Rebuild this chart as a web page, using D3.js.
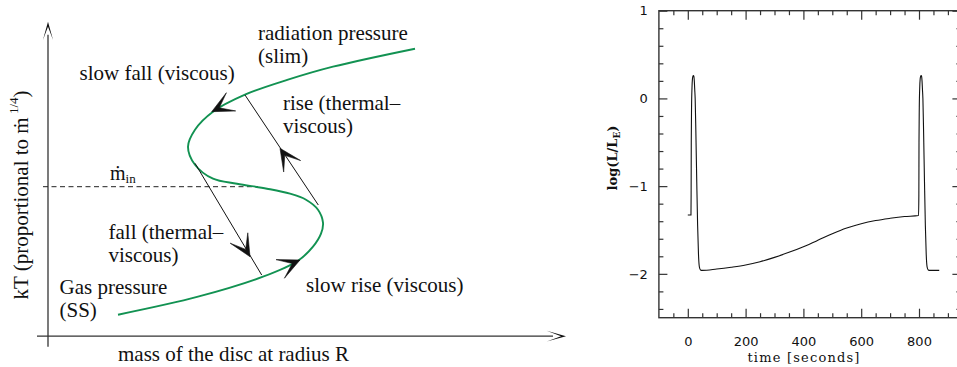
<!DOCTYPE html>
<html><head><meta charset="utf-8">
<script src="https://cdn.jsdelivr.net/npm/d3@7"></script>
<style>body{margin:0;background:#fff;} svg{display:block}</style>
</head><body>
<svg id="c" width="957" height="367"></svg>
<script>
// ---------- Left panel: schematic S-curve (arbitrary units) ----------
const sMass = [70, 150, 215, 250, 265, 273, 275, 270, 258, 242, 219, 189, 165, 147, 140, 147, 165, 197, 240, 285, 367];
const sKT   = [22, 40, 60, 76, 90, 103, 114, 127, 137, 143, 148, 153, 158, 172, 190, 207, 225, 242, 257, 270, 288];
const mdotIn = 150;               // level of the dashed line (kT units)
// transition lines [fromMass, fromKT, toMass, toKT]
const riseLine = [270.3, 131.7, 197, 241.7];
const fallLine = [147, 173.4, 213.7, 61.7];
// arrowheads: [fromMass, fromKT, tipMass, tipKT]
const arrowHeads = [
  [270.3, 131.7, 232, 188.4],   // rise
  [147, 173.4, 202, 80],        // fall
  [197, 242, 163.7, 225],       // slow fall
  [215, 60, 252, 76.7]          // slow rise
];

// ---------- Right panel: light curve ----------
const timeSec = [0, 11, 11.5, 12, 13, 14.5, 16, 18, 19.5, 21, 22.5, 24, 25.5, 28, 31, 34, 37, 40, 44, 50,
  100, 150, 200, 250, 300, 350, 400, 450, 500, 550, 600, 650, 700, 750, 798.5,
  799.5, 800, 801, 802.5, 804, 806, 807.5, 809, 810.5, 812, 813.5, 816, 819, 822, 825, 828, 832, 838, 870];
const logL = [-1.33, -1.33, -1.1, -0.5, -0.1, 0.12, 0.22, 0.255, 0.26, 0.25, 0.2, 0.1, 0.0, -0.4, -0.95, -1.45, -1.78, -1.92, -1.955, -1.96,
  -1.945, -1.925, -1.9, -1.862, -1.812, -1.755, -1.69, -1.618, -1.543, -1.478, -1.428, -1.392, -1.367, -1.347, -1.335,
  -1.1, -0.5, -0.1, 0.12, 0.22, 0.255, 0.26, 0.25, 0.2, 0.1, 0.0, -0.4, -0.95, -1.45, -1.78, -1.92, -1.955, -1.96, -1.96];
const xMajorTicks = [0, 200, 400, 600, 800];
const xMinorTicks = [-50, 50, 100, 150, 250, 300, 350, 450, 500, 550, 650, 700, 750, 850, 900];
const yMajorTicks = [-2, -1, 0, 1];
const yMinorTicks = [-2.4, -2.2, -1.8, -1.6, -1.4, -1.2, -0.8, -0.6, -0.4, -0.2, 0.2, 0.4, 0.6, 0.8];

const svg = d3.select('#c');
const serif = 'Liberation Serif, Tinos, Times New Roman, Times, Noto Serif, DejaVu Serif, serif';
const green = '#129252';

// ===== Left panel =====
const lx = d3.scaleLinear().domain([0, 520]).range([48, 568]);
const ly = d3.scaleLinear().domain([0, 315]).range([336.7, 21.7]);
const L = svg.append('g');

function arrowPath(tx, ty, ang, len, half, notch) {
  const back = ang + Math.PI;
  const a1 = [tx + len * Math.cos(back + half), ty + len * Math.sin(back + half)];
  const a2 = [tx + len * Math.cos(back - half), ty + len * Math.sin(back - half)];
  const n = [tx + notch * Math.cos(back), ty + notch * Math.sin(back)];
  return `M${tx},${ty}L${a1[0]},${a1[1]}L${n[0]},${n[1]}L${a2[0]},${a2[1]}Z`;
}

// axes
L.append('line').attr('x1', lx(0)).attr('x2', lx(0)).attr('y1', ly(-10)).attr('y2', ly(302))
  .attr('stroke', '#333').attr('stroke-width', 1.3);
L.append('path').attr('d', arrowPath(lx(0), ly(315), -Math.PI / 2, 19, 0.27, 5)).attr('fill', '#111');
L.append('line').attr('x1', lx(-11)).attr('x2', lx(505)).attr('y1', ly(0.5)).attr('y2', ly(0.5))
  .attr('stroke', '#333').attr('stroke-width', 1.3);
L.append('path').attr('d', arrowPath(lx(518), ly(0.5), 0, 20, 0.27, 5)).attr('fill', '#111');

// dashed level
L.append('line').attr('x1', lx(-5)).attr('x2', lx(210)).attr('y1', ly(mdotIn)).attr('y2', ly(mdotIn))
  .attr('stroke', '#222').attr('stroke-width', 1).attr('stroke-dasharray', '5,3.5');

// S curve
const sPts = sMass.map((m, i) => [m, sKT[i]]);
L.append('path').datum(sPts)
  .attr('d', d3.line().x(d => lx(d[0])).y(d => ly(d[1])).curve(d3.curveCatmullRom.alpha(0.5)))
  .attr('fill', 'none').attr('stroke', green).attr('stroke-width', 1.9);

// transition lines
[riseLine, fallLine].forEach(l => {
  L.append('line').attr('x1', lx(l[0])).attr('y1', ly(l[1])).attr('x2', lx(l[2])).attr('y2', ly(l[3]))
    .attr('stroke', '#111').attr('stroke-width', 1);
});
arrowHeads.forEach(a => {
  const fx = lx(a[0]), fy = ly(a[1]), tx = lx(a[2]), ty = ly(a[3]);
  const ang = Math.atan2(ty - fy, tx - fx);
  L.append('path').attr('d', arrowPath(tx, ty, ang, 24, 0.44, 8.5)).attr('fill', '#111')
    .attr('stroke', '#111').attr('stroke-width', 0.6).attr('stroke-linejoin', 'round');
});

// texts
const labels = [
  ['radiation pressure', 258, 40], ['(slim)', 258, 62.5],
  ['slow fall (viscous)', 79.5, 79.5],
  ['rise (thermal\u2013', 283, 109.5], ['viscous)', 283, 132.5],
  ['fall (thermal\u2013', 108.5, 238.5], ['viscous)', 108.5, 261.5],
  ['Gas pressure', 59.5, 293.5], ['(SS)', 59.5, 316.5],
  ['slow rise (viscous)', 306, 292]
];
labels.forEach(t => {
  L.append('text').attr('x', t[1]).attr('y', t[2]).text(t[0])
    .style('font-family', serif).attr('font-size', 21).attr('fill', '#111');
});
const mt = L.append('text').attr('x', 110).attr('y', 180).style('font-family', serif).attr('font-size', 20).attr('fill', '#111');
mt.append('tspan').text('\u1E41');
mt.append('tspan').attr('font-size', 13).attr('dy', 3).text('in');

L.append('text').attr('x', 118).attr('y', 361).style('font-family', serif).attr('font-size', 21).attr('fill', '#111')
  .text('mass of the disc at radius R');

const yl = L.append('text').attr('transform', 'translate(28,195) rotate(-90)').attr('text-anchor', 'middle')
  .style('font-family', serif).attr('font-size', 21).attr('fill', '#111');
yl.append('tspan').text('kT (proportional to \u1E41');
yl.append('tspan').attr('font-size', 13).attr('dy', -10).text(' 1/4');
yl.append('tspan').attr('dy', 10).text(')');

// ===== Right panel =====
const rx = d3.scaleLinear().domain([-100, 945]).range([658.9, 658.9 + 1045 * 0.289]);
const ry = d3.scaleLinear().domain([-2.5, 1]).range([317.7, 10.7]);
const R = svg.append('g');
const tickFont = 'DejaVu Sans, sans-serif';
const labFont = 'DejaVu Serif, serif';

function styleAxis(g) {
  g.select('.domain').remove();
  g.selectAll('line').attr('stroke', '#333').attr('stroke-width', 1.2);
  g.selectAll('text').style('font-family', tickFont).attr('font-size', 13).attr('fill', '#111');
}
const fmt = d3.format('d');
R.append('g').attr('transform', `translate(0,${ry(-2.5)})`)
  .call(d3.axisBottom(rx).tickValues(xMajorTicks).tickSize(-9).tickPadding(19).tickFormat(fmt)).call(styleAxis);
R.append('g').attr('transform', `translate(0,${ry(-2.5)})`)
  .call(d3.axisBottom(rx).tickValues(xMinorTicks).tickSize(-4.5).tickFormat('')).call(styleAxis);
R.append('g').attr('transform', `translate(0,${ry(1)})`)
  .call(d3.axisTop(rx).tickValues(xMajorTicks).tickSize(-9).tickFormat('')).call(styleAxis);
R.append('g').attr('transform', `translate(0,${ry(1)})`)
  .call(d3.axisTop(rx).tickValues(xMinorTicks).tickSize(-4.5).tickFormat('')).call(styleAxis);
R.append('g').attr('transform', `translate(${rx(-100)},0)`)
  .call(d3.axisLeft(ry).tickValues(yMajorTicks).tickSize(-8.5).tickPadding(11).tickFormat(fmt)).call(styleAxis);
R.append('g').attr('transform', `translate(${rx(-100)},0)`)
  .call(d3.axisLeft(ry).tickValues(yMinorTicks).tickSize(-4.5).tickFormat('')).call(styleAxis);
R.append('g').attr('transform', `translate(${rx(945)},0)`)
  .call(d3.axisRight(ry).tickValues(yMajorTicks).tickSize(-8.5).tickFormat('')).call(styleAxis);
R.append('g').attr('transform', `translate(${rx(945)},0)`)
  .call(d3.axisRight(ry).tickValues(yMinorTicks).tickSize(-4.5).tickFormat('')).call(styleAxis);

R.append('rect').attr('x', rx(-100)).attr('y', ry(1)).attr('width', rx(945) - rx(-100)).attr('height', ry(-2.5) - ry(1))
  .attr('fill', 'none').attr('stroke', '#333').attr('stroke-width', 1.4);

const lc = timeSec.map((t, i) => [t, logL[i]]);
R.append('path').datum(lc)
  .attr('d', d3.line().x(d => rx(d[0])).y(d => ry(d[1])).curve(d3.curveMonotoneX))
  .attr('fill', 'none').attr('stroke', '#111').attr('stroke-width', 1.1);

R.append('text').attr('x', rx(400)).attr('y', 362).attr('text-anchor', 'middle')
  .style('font-family', labFont).attr('font-size', 13).attr('fill', '#111')
  .attr('textLength', 112).attr('lengthAdjust', 'spacing').text('time [seconds]');
const rl = R.append('text').attr('transform', 'translate(617,158) rotate(-90)').attr('text-anchor', 'middle')
  .style('font-family', labFont).attr('font-size', 13).attr('font-weight', 'bold').attr('fill', '#111');
rl.append('tspan').text('log(L/L');
rl.append('tspan').attr('font-size', 9).attr('dy', 3).text('E');
rl.append('tspan').attr('dy', -3).text(')');
</script></body></html>
